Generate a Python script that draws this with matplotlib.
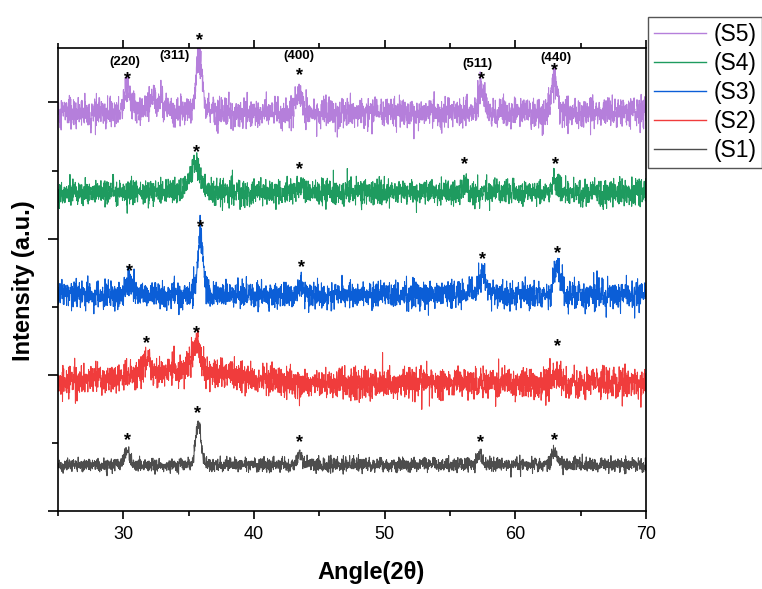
import numpy as np
import matplotlib
matplotlib.use('Agg')
import matplotlib.pyplot as plt

plt.rcParams['font.family'] = ['Liberation Sans', 'DejaVu Sans']

# --- datos (unidades arbitrarias, 1 unidad = una marca menor del eje y) ---
muestras = ['(S1)', '(S2)', '(S3)', '(S4)', '(S5)']
colores = ['#4d4d4d', '#f03c3c', '#0b5ed7', '#1e9b5f', '#b57fdb']

# linea base y nivel de ruido de cada patron
lineas_base = [0.68, 1.88, 3.18, 4.68, 5.85]
nivel_ruido = [0.05, 0.11, 0.10, 0.09, 0.11]

# picos: posicion (2theta), altura, anchura
picos_pos = [
    [30.3, 35.75, 43.5, 57.3, 63.0],
    [31.8, 35.6, 63.2, 34.5],
    [30.5, 35.9, 43.6, 57.5, 63.2],
    [35.5, 43.5, 56.1, 63.1],
    [30.3, 32.4, 35.8, 43.4, 57.4, 63.0],
]
picos_alt = [
    [0.20, 0.62, 0.15, 0.15, 0.20],
    [0.20, 0.35, 0.12, 0.20],
    [0.22, 0.90, 0.18, 0.30, 0.45],
    [0.40, 0.10, 0.10, 0.12],
    [0.35, 0.20, 0.90, 0.30, 0.35, 0.50],
]
picos_anch = [
    [0.20, 0.20, 0.18, 0.20, 0.20],
    [0.25, 0.35, 0.30, 3.5],
    [0.22, 0.20, 0.20, 0.25, 0.25],
    [0.40, 0.25, 0.25, 0.30],
    [0.25, 0.60, 0.22, 0.25, 0.25, 0.25],
]

# asteriscos sobre los picos
estrellas_x = [
    [30.3, 35.7, 43.5, 57.3, 63.0],
    [31.8, 35.6, 63.2],
    [30.5, 35.9, 43.6, 57.5, 63.2],
    [35.6, 43.5, 56.1, 63.1],
    [30.3, 35.8, 43.5, 57.4, 63.0],
]
estrellas_y = [
    [1.04, 1.43, 1.00, 1.01, 1.04],
    [2.46, 2.60, 2.41],
    [3.51, 4.16, 3.57, 3.69, 3.78],
    [5.26, 5.01, 5.09, 5.09],
    [6.34, 6.91, 6.40, 6.34, 6.47],
]

# indices de Miller
planos = ['(220)', '(311)', '(400)', '(511)', '(440)']
planos_x = [30.1, 33.95, 43.4, 57.1, 63.1]
planos_y = [6.60, 6.68, 6.68, 6.57, 6.66]

angulo = np.arange(25, 70.001, 0.015)
rng = np.random.default_rng(7)  # solo textura del ruido del difractometro

fig = plt.figure(figsize=(7.62, 5.89), dpi=100)
ax = fig.add_axes([58/762, 1-511/589, 588/762, 463/589])

lineas = []
for i in range(5):
    y = np.full_like(angulo, lineas_base[i])
    for p, h, w in zip(picos_pos[i], picos_alt[i], picos_anch[i]):
        y += h * np.exp(-0.5 * ((angulo - p) / w) ** 2)
    y += rng.normal(0, nivel_ruido[i], angulo.size)
    l, = ax.plot(angulo, y, color=colores[i], lw=0.75, label=muestras[i])
    lineas.append(l)
    for sx, sy in zip(estrellas_x[i], estrellas_y[i]):
        ax.text(sx, sy, '*', ha='center', va='center', fontsize=13,
                fontweight='bold', clip_on=False)

for t, px, py in zip(planos, planos_x, planos_y):
    ax.text(px, py, t, ha='center', va='center', fontsize=9.5, fontweight='bold')

ax.set_xlim(25, 70)
ax.set_ylim(0, 6.8)
ax.set_xticks([30, 40, 50, 60, 70])
ax.set_xticks([25, 35, 45, 55, 65], minor=True)
ax.set_yticks([0, 2, 4, 6])
ax.set_yticks([1, 3, 5], minor=True)
ax.set_yticklabels([])
ax.tick_params(axis='x', which='both', direction='out', top=True, labelsize=13,
               width=1.2, pad=5)
ax.tick_params(axis='x', which='major', length=6)
ax.tick_params(axis='x', which='minor', length=3.5)
ax.tick_params(axis='y', which='major', direction='out', length=7.5, width=1.2)
ax.tick_params(axis='y', which='minor', direction='out', length=4, width=1.2)
for s in ax.spines.values():
    s.set_linewidth(1.2)

fig.text(371/762, 1-572/589, 'Angle(2θ)', ha='center', va='center',
         fontsize=17, fontweight='bold')
fig.text(24/762, 1-281/589, 'Intensity (a.u.)', ha='center', va='center',
         rotation=90, fontsize=17, fontweight='bold')

leg = fig.legend(lineas[::-1], muestras[::-1], loc='upper left',
                 bbox_to_anchor=(648/762, 1-17/589), fontsize=16.5,
                 fancybox=False, edgecolor='#555555', framealpha=1,
                 handlelength=2.3, handletextpad=0.3, labelspacing=0.27,
                 borderpad=0.25, borderaxespad=0)
leg.get_frame().set_linewidth(1.0)
for h in leg.get_lines():
    h.set_linewidth(1.0)

fig.savefig('out.png', dpi=100)
